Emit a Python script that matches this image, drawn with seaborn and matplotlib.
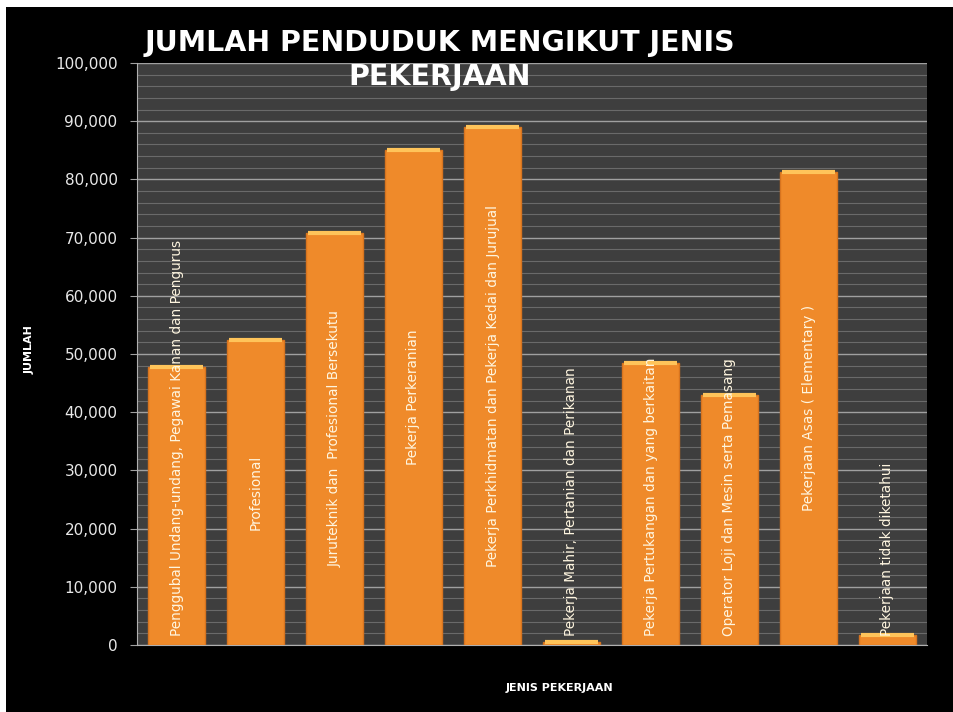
import pandas as pd
import numpy as np
import matplotlib
matplotlib.use("Agg")
import matplotlib.pyplot as plt
import seaborn as sns
from matplotlib.patches import Rectangle

# data
categories = [
    "Penggubal Undang-undang, Pegawai Kanan dan Pengurus",
    "Profesional",
    "Juruteknik dan  Profesional Bersekutu",
    "Pekerja Perkeranian",
    "Pekerja Perkhidmatan dan Pekerja Kedai dan Jurujual",
    "Pekerja Mahir, Pertanian dan Perikanan",
    "Pekerja Pertukangan dan yang berkaitan",
    "Operator Loji dan Mesin serta Pemasang",
    "Pekerjaan Asas ( Elementary )",
    "Pekerjaan tidak diketahui",
]
jumlah = [47800, 52400, 70800, 85000, 89000, 500, 48400, 43000, 81300, 1700]
yticks = list(range(0, 100001, 10000))

df = pd.DataFrame({"Pekerjaan": categories, "Jumlah": jumlah})

sns.set_style("dark")
plt.rcParams["font.family"] = ["DejaVu Sans"]

fig = plt.figure(figsize=(9.54, 7.12), dpi=100)
fig.patch.set_facecolor("black")
# thin white border on top and left only
fig.patches.append(Rectangle((0, 1 - 7 / 712), 1, 7 / 712, transform=fig.transFigure,
                             facecolor="white", edgecolor="none", zorder=-10))
fig.patches.append(Rectangle((0, 0), 6 / 954, 1, transform=fig.transFigure,
                             facecolor="white", edgecolor="none", zorder=-10))

ax = fig.add_axes([137 / 954, 1 - 645 / 712, (927 - 137) / 954, (645 - 63) / 712])
ax.set_facecolor("#3e3e3e")

sns.barplot(x="Pekerjaan", y="Jumlah", data=df, color="#ef8a2a", width=0.73,
            saturation=1, edgecolor="#d7741f", linewidth=1.0, ax=ax, zorder=3)

# lighter cap on top of each bar
for p in ax.patches:
    ax.hlines(p.get_height(), p.get_x() + 2 / 79, p.get_x() + p.get_width() - 2 / 79,
              color="#ffc45a", linewidth=3, zorder=4)

ax.set_ylim(0, 100000)
ax.set_xlim(-0.5, len(categories) - 0.5)
ax.set_yticks(yticks)
ax.set_yticklabels([f"{v:,}" for v in yticks], color="#e8e8e8", fontsize=11)
ax.set_yticks(range(0, 100001, 2000), minor=True)
ax.grid(axis="y", which="major", color="#a0a0a0", linewidth=1.0, zorder=0)
ax.grid(axis="y", which="minor", color="#6a6a6a", linewidth=0.8, zorder=0)
ax.grid(axis="x", visible=False)
ax.tick_params(axis="y", which="major", length=5, color="#a0a0a0", left=True, pad=9)
ax.tick_params(axis="y", which="minor", length=0)
ax.tick_params(axis="x", bottom=False, labelbottom=False)
ax.set_xlabel("")
ax.set_ylabel("")
for side in ["top", "right"]:
    ax.spines[side].set_visible(False)
ax.spines["left"].set_color("#b0b0b0")
ax.spines["bottom"].set_color("#b0b0b0")

# category labels written vertically inside the bars
for i, (name, v) in enumerate(zip(categories, jumlah)):
    if v > 50000:
        ax.text(i, v / 2, name, rotation=90, ha="center", va="center",
                color="#fff6e0", fontsize=9.8, zorder=5)
    else:
        ax.text(i, 1600, name, rotation=90, ha="center", va="bottom",
                color="#fff6e0", fontsize=9.8, zorder=5)

fig.text(440 / 954, 1 - 60 / 712, "JUMLAH PENDUDUK MENGIKUT JENIS\nPEKERJAAN",
         ha="center", va="center", color="white", fontsize=20.5, fontweight="bold",
         linespacing=1.3)
fig.text(30 / 954, 1 - 350 / 712, "JUMLAH", rotation=90, ha="center", va="center",
         color="white", fontsize=8, fontweight="bold")
fig.text(559 / 954, 1 - 688 / 712, "JENIS PEKERJAAN", ha="center", va="center",
         color="white", fontsize=8, fontweight="bold")

fig.savefig("out.png", dpi=100, facecolor=fig.get_facecolor())
